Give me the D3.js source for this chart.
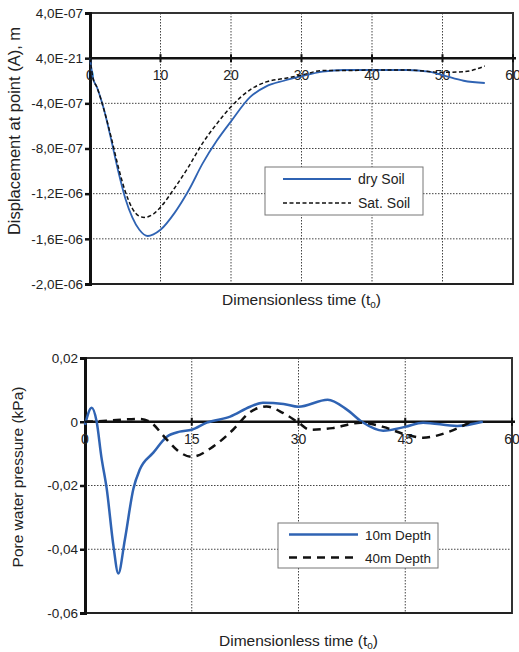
<!DOCTYPE html>
<html><head><meta charset="utf-8">
<script src="https://cdn.jsdelivr.net/npm/d3@7"></script>
<style>body{margin:0;background:#fff}svg text{font-family:"Liberation Sans",Arial,sans-serif;fill:#222}</style>
</head><body><svg id="c" width="519" height="652"></svg>
<script>
// ---- Top chart data ----
const topXTicks = [0, 10, 20, 30, 40, 50, 60];
const topYTicks = [4e-7, 0, -4e-7, -8e-7, -1.2e-6, -1.6e-6, -2e-6];
const topYLabels = ["4,0E-07", "4,0E-21", "-4,0E-07", "-8,0E-07", "-1,2E-06", "-1,6E-06", "-2,0E-06"];
const dryT = [0, 0.4, 1, 2, 3, 4, 5, 6, 7, 8.2, 9, 10, 12, 14, 16, 18, 20, 22.7, 25, 27.5, 30, 33, 36, 40, 45, 48, 50, 53, 56];
const dryV = [0, -1.7e-7, -2.6e-7, -4.6e-7, -7.2e-7, -1.0e-6, -1.24e-6, -1.41e-6, -1.52e-6, -1.575e-6, -1.56e-6, -1.52e-6, -1.37e-6, -1.17e-6, -9.3e-7, -7.3e-7, -5.6e-7, -3.45e-7, -2.5e-7, -2.0e-7, -1.6e-7, -1.2e-7, -1.05e-7, -1.05e-7, -1.05e-7, -1.2e-7, -1.5e-7, -2.0e-7, -2.2e-7];
const satT = [0, 0.4, 1, 2, 3, 4, 5, 6, 7, 7.7, 9, 10, 12, 14, 16, 18, 20, 22.7, 25, 27.5, 30, 33, 36, 40, 45, 50, 53, 56];
const satV = [0, -1.7e-7, -2.6e-7, -4.6e-7, -7.0e-7, -9.6e-7, -1.18e-6, -1.33e-6, -1.40e-6, -1.41e-6, -1.38e-6, -1.32e-6, -1.15e-6, -9.6e-7, -7.5e-7, -5.8e-7, -4.3e-7, -2.8e-7, -2.1e-7, -1.8e-7, -1.5e-7, -1.1e-7, -1.1e-7, -1.05e-7, -1.05e-7, -1.25e-7, -1.2e-7, -0.7e-7];
const topSeries = ["dry Soil", "Sat. Soil"];

// ---- Bottom chart data ----
const botXTicks = [0, 15, 30, 45, 60];
const botYTicks = [0.02, 0, -0.02, -0.04, -0.06];
const botYLabels = ["0,02", "0", "-0,02", "-0,04", "-0,06"];
const d10T = [0, 0.94, 1.64, 2.3, 3.05, 4.0, 4.68, 5.6, 6.8, 7.7, 9.6, 11.5, 13.3, 15, 17.1, 20.4, 23.2, 25, 27.9, 30, 34.1, 36.8, 38.9, 41.9, 45, 47.5, 52.3, 55.9];
const d10V = [-0.001, 0.0044, 0, -0.011, -0.021, -0.039, -0.0476, -0.037, -0.021, -0.015, -0.0097, -0.0047, -0.0031, -0.0025, -0.0003, 0.0016, 0.0047, 0.006, 0.0056, 0.0047, 0.0069, 0.0038, 0, -0.0028, -0.0016, -0.0003, -0.0013, 0];
const d40T = [0, 3, 6.3, 7.7, 9.1, 11.5, 13, 15, 18, 20.8, 23.2, 25.5, 27.8, 30, 31.6, 34.8, 38.7, 41.9, 45, 47.5, 51.3, 54.4];
const d40V = [0, 0.0003, 0.0008, 0.0009, 0, -0.0056, -0.009, -0.011, -0.0078, -0.0025, 0.003, 0.0048, 0.0028, -0.0003, -0.0025, -0.002, -0.0003, -0.0016, -0.004, -0.005, -0.003, 0.0002];
const botSeries = ["10m Depth", "40m Depth"];

const svg = d3.select("#c");
const BLUE = "#2f63b3";

function panel(o) {
  const g = svg.append("g");
  const x = d3.scaleLinear().domain(o.xd).range([o.L, o.R]);
  const y = d3.scaleLinear().domain(o.yd).range([o.B, o.T]);
  // grid
  g.selectAll(".vg").data(o.xt.filter(v => v > o.xd[0] && v < o.xd[1])).join("line")
    .attr("x1", d => x(d)).attr("x2", d => x(d)).attr("y1", o.T).attr("y2", o.B)
    .attr("stroke", "#444").attr("stroke-width", 1).attr("stroke-dasharray", "1.5,1.5");
  g.selectAll(".hg").data(o.yt.filter(v => v !== 0 && v > o.yd[0] && v < o.yd[1])).join("line")
    .attr("y1", d => y(d)).attr("y2", d => y(d)).attr("x1", o.L).attr("x2", o.R)
    .attr("stroke", "#444").attr("stroke-width", 1).attr("stroke-dasharray", "1.5,1.5");
  // frame
  g.append("rect").attr("x", o.L).attr("y", o.T).attr("width", o.R - o.L).attr("height", o.B - o.T)
    .attr("fill", "none").attr("stroke", "#333").attr("stroke-width", 2);
  g.append("line").attr("x1", o.L).attr("x2", o.R).attr("y1", o.B).attr("y2", o.B).attr("stroke", "#222").attr("stroke-width", 2);
  // y axis
  const ya = d3.axisLeft(y).tickValues(o.yt).tickSize(5).tickFormat((d, i) => o.yl[i]);
  const yg = g.append("g").attr("transform", `translate(${o.L},0)`).call(ya);
  yg.select(".domain").attr("stroke", "#111").attr("stroke-width", 3);
  yg.selectAll(".tick line").attr("stroke", "#111").attr("stroke-width", 2.5);
  yg.selectAll(".tick text").attr("font-size", 13.5).attr("fill", "#222").attr("x", -7)
    .style("font-family", "Liberation Sans, Arial, sans-serif");
  // zero line with ticks
  const y0 = y(0);
  g.append("line").attr("x1", o.L).attr("x2", o.R + 3).attr("y1", y0).attr("y2", y0).attr("stroke", "#111").attr("stroke-width", 2.5);
  g.selectAll(".xt").data(o.xt).join("line")
    .attr("x1", d => x(d)).attr("x2", d => x(d)).attr("y1", y0 - 4).attr("y2", y0 + 4)
    .attr("stroke", "#111").attr("stroke-width", 2);
  g.selectAll(".xl").data(o.xt).join("text")
    .attr("x", d => x(d)).attr("y", y0 + 22).attr("text-anchor", "middle").attr("font-size", 14)
    .text(d => d);
  // series
  o.series.forEach(s => {
    const line = d3.line().x(d => x(d[0])).y(d => y(d[1])).curve(s.curve);
    g.append("path").datum(d3.zip(s.t, s.v)).attr("d", line).attr("fill", "none")
      .attr("stroke", s.color).attr("stroke-width", s.w).attr("stroke-dasharray", s.dash || null);
  });
  // legend
  const lg = g.append("g");
  lg.append("rect").attr("x", o.leg.x).attr("y", o.leg.y).attr("width", o.leg.w).attr("height", o.leg.h)
    .attr("fill", "#fff").attr("stroke", "#777").attr("stroke-width", 1);
  o.series.forEach((s, i) => {
    const ly = o.leg.y + o.leg.r0 + i * o.leg.dy;
    lg.append("line").attr("x1", o.leg.x + o.leg.l0).attr("x2", o.leg.x + o.leg.l1).attr("y1", ly).attr("y2", ly)
      .attr("stroke", s.color).attr("stroke-width", s.w).attr("stroke-dasharray", s.dash || null);
    lg.append("text").attr("x", o.leg.x + o.leg.tx).attr("y", ly + 5).attr("font-size", o.leg.fs).text(s.name);
  });
  // titles
  const xtT = svg.append("text").attr("x", (o.L + o.R) / 2).attr("y", o.xty).attr("text-anchor", "middle").attr("font-size", 15.5);
  xtT.append("tspan").text("Dimensionless time (t");
  xtT.append("tspan").attr("font-size", 10).attr("dy", 3).text("o");
  xtT.append("tspan").attr("dy", -3).text(")");
  svg.append("text").attr("transform", `translate(${o.ytx},${o.yty}) rotate(-90)`).attr("text-anchor", "middle")
    .attr("font-size", o.ytfs).text(o.ytitle);
}

panel({
  L: 90, R: 513, T: 13, B: 284, xd: [0, 60], yd: [-2e-6, 4e-7],
  xt: topXTicks, yt: topYTicks, yl: topYLabels,
  series: [
    {name: topSeries[0], t: dryT, v: dryV, color: BLUE, w: 1.8, curve: d3.curveMonotoneX},
    {name: topSeries[1], t: satT, v: satV, color: "#111", w: 1.5, dash: "4,2.5", curve: d3.curveMonotoneX}
  ],
  leg: {x: 265, y: 167, w: 158, h: 48, r0: 12, dy: 24, l0: 18, l1: 86, tx: 93, fs: 14},
  xty: 305, ytx: 20, yty: 131, ytfs: 16.5, ytitle: "Displacement at point (A), m"
});

panel({
  L: 85, R: 512, T: 358, B: 613, xd: [0, 60], yd: [-0.06, 0.02],
  xt: botXTicks, yt: botYTicks, yl: botYLabels,
  series: [
    {name: botSeries[0], t: d10T, v: d10V, color: BLUE, w: 2.5, curve: d3.curveMonotoneX},
    {name: botSeries[1], t: d40T, v: d40V, color: "#111", w: 2.5, dash: "8,6", curve: d3.curveMonotoneX}
  ],
  leg: {x: 278, y: 523, w: 160, h: 45, r0: 11.5, dy: 23, l0: 11, l1: 80, tx: 87, fs: 13.5},
  xty: 646, ytx: 23, yty: 477, ytfs: 15.5, ytitle: "Pore water  pressure (kPa)"
});
</script></body></html>
